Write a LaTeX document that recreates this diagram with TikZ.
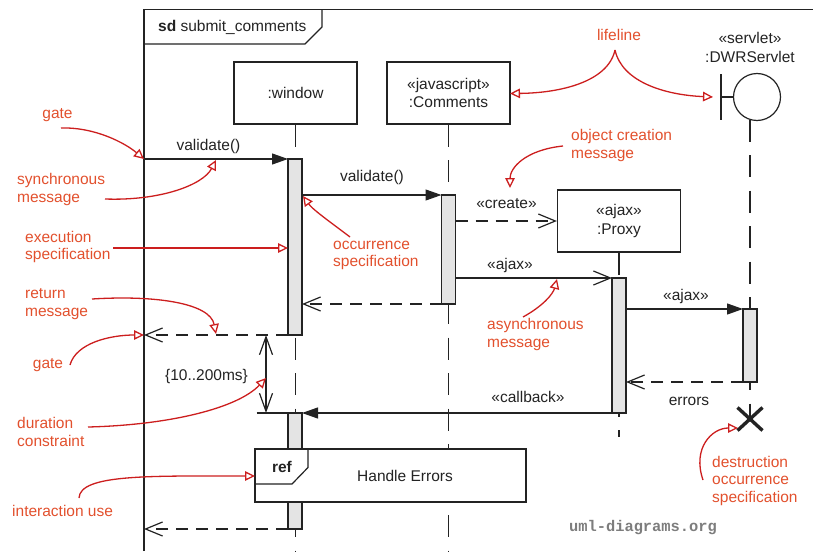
\documentclass[tikz,border=0pt]{standalone}
\usepackage{fontspec}
\setmainfont{Liberation Sans}
\newfontfamily\wmfont{Liberation Mono}
\usetikzlibrary{arrows.meta}
\definecolor{annred}{RGB}{204,30,30}
\definecolor{anntext}{RGB}{226,80,45}
\definecolor{barfill}{RGB}{228,228,228}
\definecolor{ink}{RGB}{35,35,35}
\definecolor{wmgray}{RGB}{125,125,125}
\begin{document}
\begin{tikzpicture}[x=1pt,y=-1pt,
  txt/.style={font=\fontsize{15.5}{18.5}\selectfont, text=ink, inner sep=0pt, align=center},
  ann/.style={font=\fontsize{15.5}{17.5}\selectfont, text=anntext, inner sep=0pt, align=left},
  ln/.style={draw=ink, line width=1.2pt},
  lbox/.style={ln, fill=white, minimum width=123pt, minimum height=62pt, inner sep=0pt, align=center, font=\fontsize{15.5}{18.5}\selectfont, text=ink},
  lifeln/.style={ln, dash pattern=on 22pt off 13.5pt},
  actbar/.style={ln, fill=barfill, minimum width=14pt, inner sep=0pt, outer sep=0pt, anchor=north},
  syncmsg/.style={ln, -{Triangle[length=16pt,width=11pt]}},
  asyncmsg/.style={ln, -{Straight Barb[length=17pt,width=14pt]}},
  retmsg/.style={ln, dash pattern=on 12pt off 8pt, -{Straight Barb[length=17pt,width=14pt]}},
  annarrow/.style={draw=annred, line width=1.3pt, -{Triangle[open,length=10pt,width=9.5pt]}},
  durarrow/.style={ln, {Straight Barb[length=18pt,width=13pt]}-{Straight Barb[length=18pt,width=13pt]}}
]
\useasboundingbox (0,0) rectangle (813,551);

% frame
\draw[ln] (144,551) -- (144,9.5) -- (813,9.5);
\draw[ln] (144,44) -- (305,44) -- (322,27) -- (322,9.5);
\node[txt, anchor=west] (sdlbl) at (158,27) {\textbf{sd} submit\_comments};

% lifeline heads
\node[lbox] (win) at (295.5,93) {:window};
\node[lbox] (com) at (448.5,93) {«javascript»\\:Comments};
\node[lbox] (prx) at (619,221) {«ajax»\\:Proxy};

% servlet boundary
\node[ln, circle, minimum size=47pt, inner sep=0pt] (srv) at (757,97) {};
\coordinate (srvbar1) at (721,74);
\coordinate (srvbar2) at (721,120);
\coordinate (srvmid) at (721,97);
\draw[ln] (srvbar1) -- (srvbar2);
\draw[ln] (srvmid) -- (srv.west);
\node[txt] (srvlbl) at (750,47.5) {«servlet»\\:DWRServlet};
\coordinate (srvtop) at (750,119.6);
\coordinate (srvend) at (750,419);

% lifelines
\coordinate (winend) at (295.5,551);
\coordinate (comend) at (448.5,551);
\coordinate (prxend) at (619,437);
\draw[lifeln] (win.south) -- (winend);
\draw[lifeln] (com.south) -- (comend);
\draw[lifeln] (prx.south) -- (prxend);
\draw[lifeln] (srvtop) -- (srvend);

% activation bars
\node[actbar, minimum height=176pt] (wb1) at (295,159) {};
\node[actbar, minimum height=109pt] (cb1) at (448.5,195) {};
\node[actbar, minimum height=135pt] (pb) at (619,278) {};
\node[actbar, minimum height=73pt] (sb) at (750,309) {};
\node[actbar, minimum height=116pt] (wb2) at (295,413) {};

% destruction
\coordinate (xc) at (750,419);
\draw[draw=ink, line width=3.4pt] ([shift={(-12.5,-11.5)}]xc) -- ([shift={(12.5,11.5)}]xc);
\draw[draw=ink, line width=3.4pt] ([shift={(-12.5,11.5)}]xc) -- ([shift={(12.5,-11.5)}]xc);

% gates
\coordinate (gate1) at (144,159);
\coordinate (gate2) at (144,335);
\coordinate (gate3) at (144,529);

% messages
\draw[syncmsg] (gate1) -- (wb1.north west);
\node[txt] (m1) at (208.5,146) {validate()};
\draw[syncmsg] (wb1.east |- cb1.north) -- (cb1.north west);
\node[txt] (m2) at (372,177) {validate()};
\draw[retmsg] (cb1.east |- prx.west) -- (prx.west);
\node[txt] (m3) at (506.5,203.5) {«create»};
\draw[retmsg] (cb1.south west) -- (wb1.east |- cb1.south);
\draw[asyncmsg] (cb1.east |- pb.north) -- (pb.north west);
\node[txt] (m4) at (510,265) {«ajax»};
\draw[syncmsg] (pb.east |- sb.north) -- (sb.north west);
\node[txt] (m5) at (686,296) {«ajax»};
\draw[retmsg] (sb.south west) -- (pb.east |- sb.south);
\node[txt] (m6) at (689,401) {errors};
\draw[syncmsg] (pb.south west) -- (wb2.north east);
\node[txt] (m7) at (528,396.5) {«callback»};
\draw[retmsg] (wb1.south west) -- (gate2);
\draw[retmsg] (wb2.south west) -- (gate3);

% duration constraint
\coordinate (durtop) at (266,335);
\coordinate (durbot) at (266,413);
\coordinate (durext) at (256.5,413);
\draw[durarrow] (durtop) -- (durbot);
\draw[ln] (durext) -- (wb2.north west);
\node[txt] (durlbl) at (206.5,376) {\{10..200ms\}};

% interaction use
\node[ln, fill=white, minimum width=271pt, minimum height=53pt, inner sep=0pt] (ref) at (390.5,475.5) {};
\draw[ln] (255,484) -- (292,484) -- (308,467.5) -- (308,449);
\node[txt] (reflbl) at (282,467) {\textbf{ref}};
\node[txt] (reftxt) at (405,475.5) {Handle Errors};

% watermark
\node[font=\wmfont\bfseries\fontsize{15.4}{18}\selectfont, text=wmgray, inner sep=0pt] (wm) at (643,528) {uml-diagrams.org};

% annotations
\node[ann] (aGate1) at (57.5,115.5) {gate};
\node[ann, anchor=west] (aSync) at (17,189.5) {synchronous\\message};
\node[ann, anchor=west] (aExec) at (25,247) {execution\\specification};
\node[ann, anchor=west] (aRet) at (25,304) {return\\message};
\node[ann] (aGate2) at (48,365) {gate};
\node[ann, anchor=west] (aDur) at (17,432) {duration\\constraint};
\node[ann, anchor=west] (aInt) at (12,511) {interaction use};
\node[ann, anchor=west] (aOcc) at (333,255.5) {occurrence\\specification};
\node[ann] (aLife) at (619,35) {lifeline};
\node[ann, anchor=west] (aObj) at (571,145.5) {object creation\\message};
\node[ann, anchor=west] (aAsync) at (487,334.5) {asynchronous\\message};
\node[ann, anchor=west] (aDes) at (712,480.5) {destruction\\occurrence\\specification};

\coordinate (sGate1) at (61,128);
\coordinate (sSync) at (105,199);
\coordinate (eSync) at (216,160);
\coordinate (sExec) at (113,248);
\coordinate (eExec) at (288,248);
\coordinate (sOcc) at (350,237);
\coordinate (eOcc) at (303,196);
\coordinate (sRet) at (92,299);
\coordinate (eRet) at (216,334);
\coordinate (sGate2) at (70,365);
\coordinate (sDur) at (88,427);
\coordinate (eDur) at (266,378);
\coordinate (sInt) at (79,498);
\coordinate (eInt) at (255,476);
\coordinate (sLife) at (615,50);
\coordinate (eLife1) at (510,93.5);
\coordinate (eLife2) at (713,97);
\coordinate (sObj) at (563,146);
\coordinate (eObj) at (510,188);
\coordinate (sAsync) at (523,317);
\coordinate (eAsync) at (557,279);
\coordinate (sDes) at (703,480);
\coordinate (eDes) at (738,428);

\draw[annarrow] (sGate1) .. controls (95,127) and (125,143) .. (gate1);
\draw[annarrow] (sSync) .. controls (160,201) and (203,185) .. (eSync);
\draw[annarrow] (sExec) -- (eExec);
\draw[annarrow] (sOcc) .. controls (333,224) and (313,210) .. (eOcc);
\draw[annarrow] (sRet) .. controls (155,295) and (210,303) .. (eRet);
\draw[annarrow] (sGate2) .. controls (76,343) and (110,335) .. (gate2);
\draw[annarrow] (sDur) .. controls (170,425) and (238,408) .. (eDur);
\draw[annarrow] (sInt) .. controls (80,474) and (150,476) .. (eInt);
\draw[annarrow] (sLife) .. controls (608,82) and (560,93) .. (eLife1);
\draw[annarrow] (sLife) .. controls (622,82) and (665,95) .. (eLife2);
\draw[annarrow] (sObj) .. controls (525,150) and (510,168) .. (eObj);
\draw[annarrow] (sAsync) .. controls (543,306) and (553,294) .. (eAsync);
\draw[annarrow] (sDes) .. controls (692,448) and (712,428) .. (eDes);
\end{tikzpicture}
\end{document}
